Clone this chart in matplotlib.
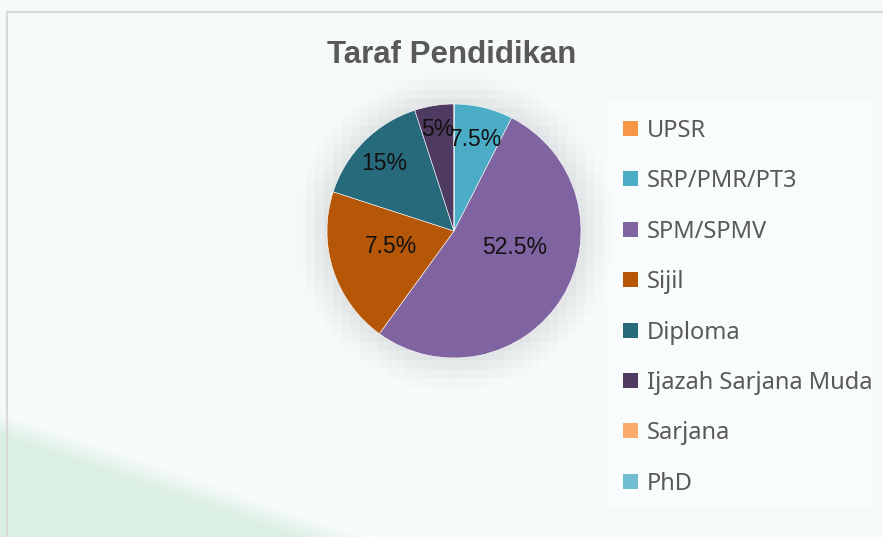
import numpy as np
import matplotlib
matplotlib.use("Agg")
import matplotlib.pyplot as plt
from matplotlib.patches import Rectangle

# data (counts out of 40 respondents)
categories = ["UPSR", "SRP/PMR/PT3", "SPM/SPMV", "Sijil", "Diploma",
              "Ijazah Sarjana Muda", "Sarjana", "PhD"]
counts = [0, 3, 21, 8, 6, 2, 0, 0]
# data labels as printed on the original chart
shown_labels = ["", "7.5%", "52.5%", "7.5%", "15%", "5%", "", ""]

colors = ["#F79646", "#4BACC6", "#8064A2", "#B65708", "#276A7B",
          "#4F3B62", "#F9AB6C", "#71BDD1"]
# label anchor positions in pie units (x, y); Excel "best fit" placement
label_pos = [None, (0.17, 0.72), (0.48, -0.13), (-0.50, -0.12),
             (-0.55, 0.53), (-0.13, 0.80), None, None]

W, H = 883, 537
cx, cy, R = 454, 231, 127

fig = plt.figure(figsize=(W / 100, H / 100), dpi=100)

# --- background: pale wash, green corner, blocky pie glow, frame lines ---
yy, xx = np.mgrid[0:H, 0:W].astype(float)
bg = np.ones((H, W, 3)) * np.array([0.965, 0.982, 0.985])
line_y = 410 + (537 - 410) * xx / 370.0
green = np.clip((yy - line_y) / 25.0, 0, 1)[..., None]
bg = bg * (1 - green) + np.array([0.865, 0.94, 0.895]) * green
streak = np.exp(-((yy - line_y) / 6.0) ** 2)[..., None] * 0.5
bg = bg * (1 - streak) + np.array([0.975, 0.99, 0.98]) * streak
# slightly whiter panel behind the legend
panel = ((xx >= 606) & (xx <= 872) & (yy >= 100) & (yy <= 507))[..., None]
bg = np.where(panel, bg * 0.5 + 0.5 * np.array([0.99, 0.996, 0.996]), bg)
bx = (xx // 9) * 9 + 4.5
by = (yy // 9) * 9 + 4.5
d = np.hypot(bx - cx, by - cy) - R
glow = np.where(d < 0, 1.0, np.clip(1 - d / 36.0, 0, 1) ** 1.4)[..., None] * 0.9
bg = bg * (1 - glow) + np.array([0.875, 0.885, 0.885]) * glow

bax = fig.add_axes([0, 0, 1, 1])
bax.imshow(bg, extent=(0, W, H, 0), interpolation="nearest")
bax.plot([7, 7], [12, H], color="#D9D9D9", lw=1.6)
bax.plot([7, W], [12, 12], color="#D9D9D9", lw=1.6)
bax.set_xlim(0, W); bax.set_ylim(H, 0)
bax.axis("off")

# --- legend (Excel style: small squares, one entry per row) ---
for i, (name, col) in enumerate(zip(categories, colors)):
    yc = 128.5 + i * 50.4
    bax.add_patch(Rectangle((623, yc - 7.5), 15, 15, facecolor=col,
                            edgecolor="none"))
    bax.text(647, yc + 8.5, name, ha="left", va="baseline", fontsize=17,
             family="Noto Sans", color="#595959")

# --- pie ---
ax = fig.add_axes([(cx - R) / W, (H - cy - R) / H, 2 * R / W, 2 * R / H])
wedges, _ = ax.pie(counts, colors=colors, startangle=90, counterclock=False,
                   wedgeprops=dict(linewidth=0.4, edgecolor="white"))
ax.set_xlim(-1, 1); ax.set_ylim(-1, 1)
ax.set_aspect("equal")
ax.axis("off")
for lab, pos in zip(shown_labels, label_pos):
    if lab and pos is not None:
        ax.text(pos[0], pos[1], lab, ha="center", va="center",
                fontsize=16.5, family="Liberation Sans", color="#111111")

fig.text(0.512, 1 - 63 / H, "Taraf Pendidikan", ha="center", va="baseline",
         fontsize=22.5, fontweight="bold", family="Liberation Sans",
         color="#595959")

fig.savefig("out.png", dpi=100)
